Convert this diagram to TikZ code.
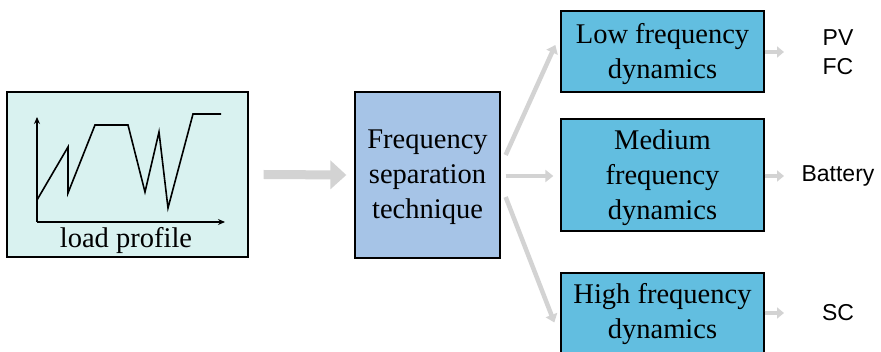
\documentclass[tikz,border=0pt]{standalone}
\usepackage{fontspec}
\setmainfont{Liberation Serif}
\setsansfont{Liberation Sans}
\usetikzlibrary{arrows.meta}
\definecolor{loadfill}{HTML}{D9F2F0}
\definecolor{freqfill}{HTML}{A6C4E7}
\definecolor{dynfill}{HTML}{62BEE0}
\definecolor{arrgray}{HTML}{D3D3D3}
\tikzset{
  box/.style={draw=black, line width=1.3pt, inner sep=0pt},
  boxtext/.style={align=center, inner sep=0pt, font=\fontsize{28.5}{35}\selectfont},
  fan/.style={draw=arrgray, line width=4.5pt, -{Triangle[length=8pt,width=12pt]}},
  outarr/.style={draw=arrgray, line width=4pt, -{Triangle[length=7pt,width=11pt]}},
  src/.style={font=\sffamily\fontsize{23}{29}\selectfont, align=center, inner sep=0pt},
  axis/.style={line width=1.5pt, -{Stealth[length=7pt,width=6pt]}},
  profile/.style={line width=1.6pt, line join=miter}
}
\begin{document}
\begin{tikzpicture}[x=1pt,y=-1pt]
\useasboundingbox (0,0) rectangle (881,352);
\clip (0,0) rectangle (881,352);
% load profile box
\node[box, fill=loadfill, minimum width=241pt, minimum height=165pt] (load) at (127.5,174.5) {};
\node[boxtext] (loadlbl) at (126,241) {load profile};
\draw[axis] (37,222) -- (37,117);
\draw[axis] (37,222) -- (225,222);
\draw[profile] (37,200) -- (68,147) -- (68,193) -- (95,125) -- (128,125) -- (145,192) -- (159,132) -- (168,208) -- (193,114) -- (221,114);
% frequency separation box
\node[box, fill=freqfill, minimum width=145pt, minimum height=166pt] (freq) at (427.5,175) {};
\node[boxtext] (freqtxt) at (427.5,177) {Frequency\\separation\\technique};
% big arrow
\draw[draw=arrgray, line width=9pt, -{Triangle[length=16pt,width=28pt]}] ([xshift=15pt]load.east) -- ([xshift=-8pt]freq.west);
% dynamics boxes
\node[box, fill=dynfill, minimum width=203pt, minimum height=81pt] (low) at (662.5,51.5) {};
\node[boxtext] (lowtxt) at (662.5,54) {Low frequency\\dynamics};
\node[box, fill=dynfill, minimum width=203pt, minimum height=112pt] (med) at (662.5,175) {};
\node[boxtext] (medtxt) at (662.5,177.5) {Medium\\frequency\\dynamics};
\node[box, fill=dynfill, minimum width=203pt, minimum height=83pt] (high) at (662.5,314.5) {};
\node[boxtext] (hightxt) at (662.5,314.5) {High frequency\\dynamics};
% fan arrows
\draw[fan] ([shift={(5pt,20pt)}]freq.east) -- ([shift={(-5pt,6.5pt)}]low.west);
\draw[fan] ([shift={(5pt,-1pt)}]freq.east) -- ([shift={(-7pt,-1pt)}]med.west);
\draw[fan] ([shift={(5pt,-22pt)}]freq.east) -- ([shift={(-6pt,-8pt)}]high.west);
% sources
\node[src] (pvfc) at (838,52.5) {PV\\FC};
\node[src] (bat) at (838,176) {Battery};
\node[src] (sc) at (838,313) {SC};
\draw[outarr] (low.east |- 0,52) -- (784,52);
\draw[outarr] (med.east |- 0,176) -- (784,176);
\draw[outarr] (high.east |- 0,313) -- (784,313);
\end{tikzpicture}
\end{document}
